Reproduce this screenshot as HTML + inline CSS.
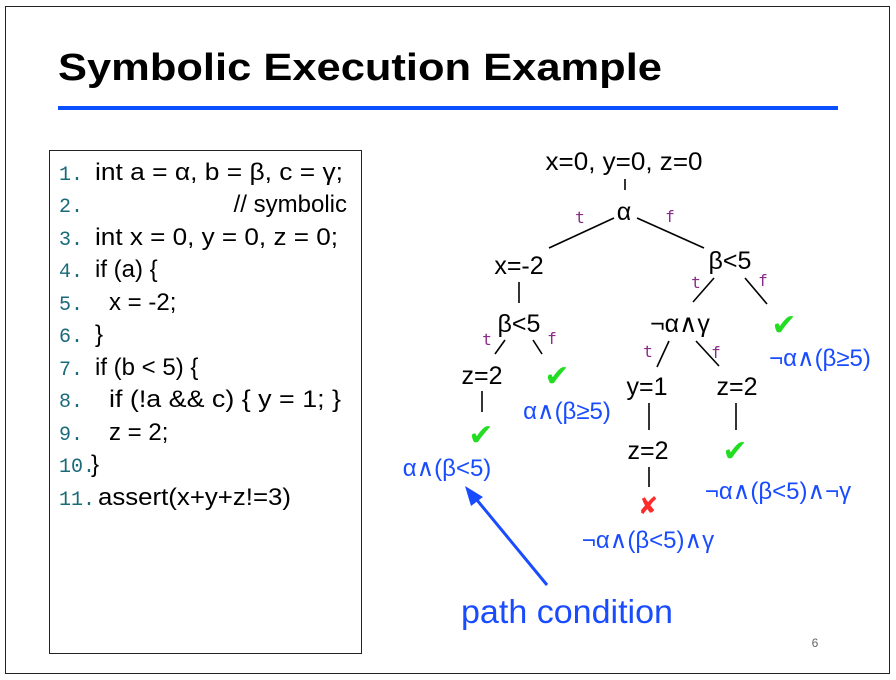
<!DOCTYPE html>
<html><head><meta charset="utf-8"><style>
html,body{margin:0;padding:0;background:#fff;}
svg{display:block;}
.t{font-family:"Liberation Sans","DejaVu Sans",sans-serif;}
.m{font-family:"Liberation Mono","DejaVu Sans Mono",monospace;fill:#1a6a7a;font-size:20px;}
.c{font-family:"Liberation Sans","DejaVu Sans",sans-serif;font-size:24px;fill:#000;}
.n{font-family:"Liberation Sans","DejaVu Sans",sans-serif;font-size:25px;fill:#000;text-anchor:middle;}
.b{font-family:"Liberation Sans","DejaVu Sans",sans-serif;font-size:24px;fill:#1a4cff;text-anchor:middle;}
.l{font-family:"DejaVu Sans Mono",monospace;font-size:16px;fill:#8a2a8a;text-anchor:middle;}
.ok{font-family:"DejaVu Sans",sans-serif;font-size:30px;fill:#22dd22;text-anchor:middle;font-weight:bold;}
line{stroke:#000;stroke-width:1.6;}
</style></head><body>
<svg width="896" height="680" viewBox="0 0 896 680" xmlns="http://www.w3.org/2000/svg">
<rect x="5.5" y="6.5" width="884" height="667" fill="#fff" stroke="#222" stroke-width="1"/>
<text x="58" y="80" class="t" font-size="38" font-weight="bold" fill="#000" textLength="604" lengthAdjust="spacingAndGlyphs">Symbolic Execution Example</text>
<rect x="58" y="106" width="780" height="4" fill="#0a50ff"/>
<rect x="49.5" y="150.5" width="312" height="503" fill="#fff" stroke="#222" stroke-width="1"/>
<g>
<text class="m" x="59" y="180">1.</text><text class="c" x="95" y="180" textLength="248" lengthAdjust="spacingAndGlyphs">int a = α, b = β, c = γ;</text>
<text class="m" x="59" y="212">2.</text><text class="c" x="347" y="212" text-anchor="end">// symbolic</text>
<text class="m" x="59" y="245">3.</text><text class="c" x="95" y="245" textLength="243" lengthAdjust="spacingAndGlyphs">int x = 0, y = 0, z = 0;</text>
<text class="m" x="59" y="277">4.</text><text class="c" x="95" y="277">if (a) {</text>
<text class="m" x="59" y="310">5.</text><text class="c" x="109" y="310">x = -2;</text>
<text class="m" x="59" y="342">6.</text><text class="c" x="95" y="342">}</text>
<text class="m" x="59" y="375">7.</text><text class="c" x="95" y="375">if (b &lt; 5) {</text>
<text class="m" x="59" y="407">8.</text><text class="c" x="109" y="407" textLength="232" lengthAdjust="spacingAndGlyphs">if (!a &amp;&amp; c)  { y = 1; }</text>
<text class="m" x="59" y="440">9.</text><text class="c" x="109" y="440">z = 2;</text>
<text class="m" x="59" y="472">10.</text><text class="c" x="91" y="472">}</text>
<text class="m" x="59" y="505">11.</text><text class="c" x="98" y="505" textLength="193" lengthAdjust="spacingAndGlyphs">assert(x+y+z!=3)</text>
</g>
<text class="n" x="624" y="170" textLength="157" lengthAdjust="spacingAndGlyphs">x=0, y=0, z=0</text>
<line x1="625" y1="179" x2="625" y2="190"/>
<text class="n" x="624" y="220">α</text>
<text class="l" x="580" y="223">t</text><text class="l" x="670" y="222">f</text>
<line x1="614" y1="218" x2="549" y2="248"/>
<line x1="637" y1="218" x2="704" y2="248"/>
<text class="n" x="519" y="274">x=-2</text>
<text class="n" x="730" y="269">β&lt;5</text>
<line x1="519" y1="282" x2="519" y2="303"/>
<text class="l" x="696" y="288">t</text><text class="l" x="763" y="286">f</text>
<line x1="714" y1="278" x2="693" y2="302"/>
<line x1="745" y1="278" x2="767" y2="304"/>
<text class="n" x="519" y="332">β&lt;5</text>
<text class="n" x="680" y="332">¬α∧γ</text>
<text class="ok" x="784" y="335">✔</text>
<text class="b" x="820" y="366">¬α∧(β≥5)</text>
<text class="l" x="487" y="345">t</text><text class="l" x="552" y="344">f</text>
<line x1="505" y1="340" x2="495" y2="354"/>
<line x1="533" y1="340" x2="542" y2="354"/>
<text class="n" x="482" y="384">z=2</text>
<text class="ok" x="557" y="386">✔</text>
<text class="b" x="567" y="419">α∧(β≥5)</text>
<text class="l" x="648" y="357">t</text><text class="l" x="716" y="358">f</text>
<line x1="669" y1="341" x2="657" y2="367"/>
<line x1="696" y1="341" x2="719" y2="366"/>
<text class="n" x="647" y="395">y=1</text>
<text class="n" x="737" y="395">z=2</text>
<line x1="482" y1="391" x2="482" y2="412"/>
<text class="ok" x="481" y="445">✔</text>
<text class="b" x="447" y="476">α∧(β&lt;5)</text>
<line x1="649" y1="403" x2="649" y2="430"/>
<line x1="736" y1="403" x2="736" y2="430"/>
<text class="n" x="648" y="459">z=2</text>
<text class="ok" x="735" y="461">✔</text>
<line x1="649" y1="467" x2="649" y2="487"/>
<text x="648" y="514" font-family="DejaVu Sans,sans-serif" font-size="24" font-weight="bold" fill="#ff2a2a" text-anchor="middle">✘</text>
<text class="b" x="778" y="499">¬α∧(β&lt;5)∧¬γ</text>
<text class="b" x="648" y="548">¬α∧(β&lt;5)∧γ</text>
<line x1="547" y1="585" x2="472" y2="494" style="stroke:#1a4cff;stroke-width:3"/>
<polygon points="465,486 483,497 471,506" fill="#1a4cff"/>
<text x="567" y="623" class="t" font-size="33" fill="#1a4cff" text-anchor="middle" textLength="212" lengthAdjust="spacingAndGlyphs">path condition</text>
<text x="815" y="647" class="t" font-size="12" fill="#666" text-anchor="middle">6</text>
</svg>
</body></html>
